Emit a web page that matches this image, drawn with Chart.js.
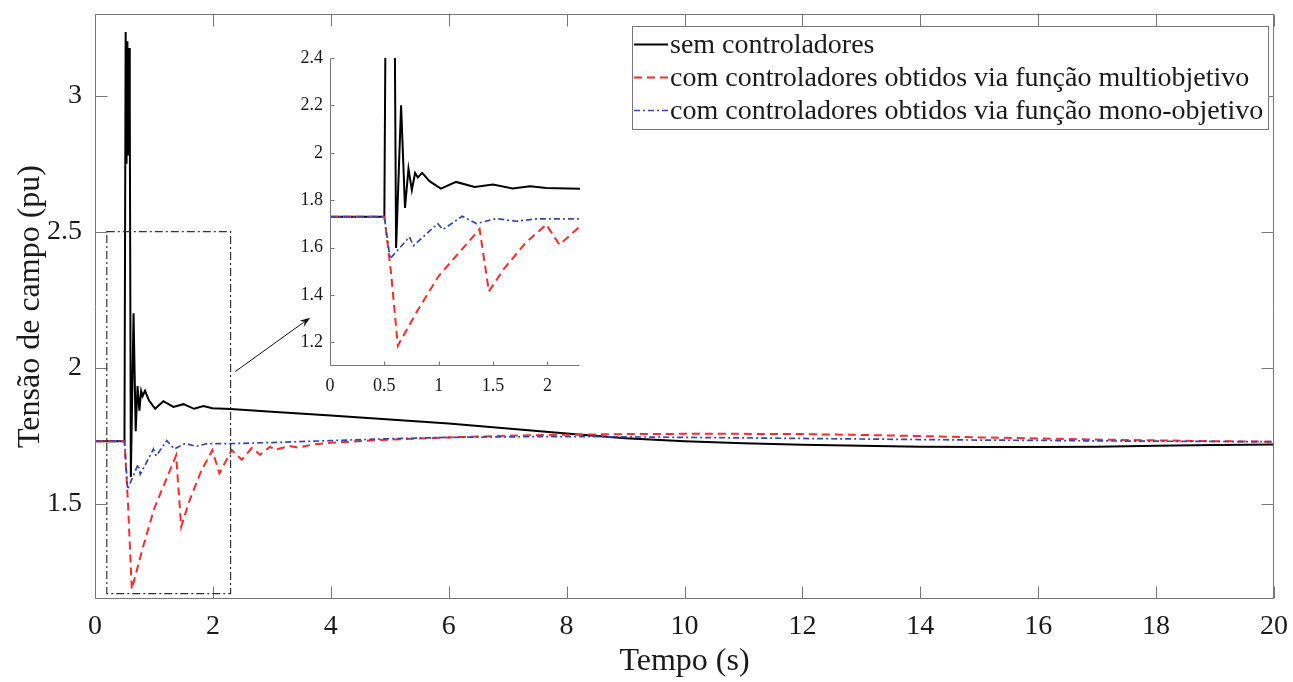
<!DOCTYPE html>
<html>
<head>
<meta charset="utf-8">
<script src="https://cdn.jsdelivr.net/npm/chart.js@4.4.1/dist/chart.umd.min.js"></script>
<style>
  html, body { margin: 0; padding: 0; background: #fff; }
  #wrap { position: relative; width: 1293px; height: 682px; }
  #main { position: absolute; left: 0; top: 0; }
  #inset { position: absolute; left: 280px; top: 40px; }
</style>
</head>
<body>
<div id="wrap">
  <canvas id="main" width="1293" height="682"></canvas>
  <canvas id="inset" width="320" height="360"></canvas>
</div>
<script>
// series (time in s, field voltage in pu)
const labels = [
    'sem controladores',
    'com controladores obtidos via função multiobjetivo',
    'com controladores obtidos via função mono-objetivo'
];

const semT = [0, 0.5, 0.52, 0.535, 0.55, 0.565, 0.58, 0.59, 0.608, 0.654, 0.69, 0.722, 0.753, 0.783, 0.808, 0.848, 0.915, 1.02, 1.16, 1.33, 1.5, 1.68, 1.84, 1.99, 2.3, 3, 4, 5, 6, 7, 8, 9, 10, 11, 12, 13, 14, 15, 16, 17, 18, 19, 20];
const semV = [1.73, 1.73, 3.234, 2.75, 3.2, 2.78, 3.175, 2.95, 1.598, 2.2, 1.767, 1.933, 1.842, 1.915, 1.896, 1.915, 1.88, 1.849, 1.877, 1.856, 1.866, 1.849, 1.859, 1.851, 1.848, 1.838, 1.824, 1.81, 1.795, 1.777, 1.758, 1.741, 1.73, 1.722, 1.717, 1.713, 1.71, 1.709, 1.709, 1.71, 1.713, 1.716, 1.718];

const multiT = [0, 0.5, 0.56, 0.624, 0.8, 1.0, 1.2, 1.376, 1.462, 1.6, 1.8, 1.99, 2.11, 2.32, 2.49, 2.66, 2.8, 2.97, 3.05, 3.3, 3.45, 3.7, 4, 5, 6, 7, 8, 9, 10, 11, 12, 13, 14, 15, 16, 17, 18, 19, 20];
const multiV = [1.73, 1.73, 1.5, 1.186, 1.33, 1.48, 1.585, 1.678, 1.415, 1.51, 1.62, 1.697, 1.612, 1.697, 1.662, 1.705, 1.68, 1.71, 1.698, 1.712, 1.706, 1.718, 1.724, 1.736, 1.744, 1.75, 1.754, 1.756, 1.757, 1.757, 1.756, 1.753, 1.749, 1.744, 1.74, 1.736, 1.733, 1.73, 1.728];

const monoT = [0, 0.5, 0.553, 0.731, 0.768, 0.992, 1.038, 1.217, 1.346, 1.53, 1.714, 1.9, 2.3, 3, 4, 5, 6, 7, 8, 9, 10, 11, 12, 13, 14, 15, 16, 17, 18, 19, 20];
const monoV = [1.73, 1.73, 1.553, 1.645, 1.608, 1.701, 1.676, 1.732, 1.701, 1.722, 1.711, 1.721, 1.721, 1.725, 1.732, 1.739, 1.744, 1.746, 1.747, 1.746, 1.744, 1.742, 1.74, 1.738, 1.736, 1.734, 1.733, 1.731, 1.73, 1.729, 1.728];

const xTicks = [0, 2, 4, 6, 8, 10, 12, 14, 16, 18, 20];
const yTicks = [1.5, 2, 2.5, 3];
const insetXTicks = [0, 0.5, 1, 1.5, 2];
const insetYTicks = [1.2, 1.4, 1.6, 1.8, 2, 2.2, 2.4];

// zoomed region and the arrow pointing to the inset, in main-axis units
const zoomX = [0.2, 2.3];
const zoomY = [1.17, 2.5];
const arrowFrom = [2.38, 1.986];
const arrowTo = [3.65, 2.184];

const family = "'Liberation Serif', 'DejaVu Serif', serif";
const textColor = '#1a1a1a';
const axisColor = '#777';

const toXY = (t, v) => t.map((x, i) => ({ x: x, y: v[i] }));
const fmt = v => String(+v.toFixed(2));

// keep the plot area exactly where the layout padding puts it
function fixSize(prop, size) {
    return s => {
        s[prop] = size;
        s.paddingTop = s.paddingBottom = s.paddingLeft = s.paddingRight = 0;
    };
}

function makeDatasets() {
    return [{
        label: labels[0],
        data: toXY(semT, semV),
        borderColor: '#000',
        borderWidth: 2,
        order: 3
    }, {
        label: labels[1],
        data: toXY(multiT, multiV),
        borderColor: '#ff2a2a',
        borderWidth: 2,
        borderDash: [8, 5],
        order: 2
    }, {
        label: labels[2],
        data: toXY(monoT, monoV),
        borderColor: '#3446b4',
        borderWidth: 1.7,
        borderDash: [6, 3, 2, 3],
        order: 1
    }];
}

// matlab-like axes: inward ticks, optional full box
const frame = {
    id: 'frame',
    afterDatasetsDraw(chart, args, o) {
        const { ctx, chartArea: a, scales } = chart;
        const L = Math.round(a.left) + 0.5, R = Math.round(a.right) - 0.5;
        const T = Math.round(a.top) + 0.5, B = Math.round(a.bottom) - 0.5;
        ctx.save();
        ctx.strokeStyle = o.color;
        ctx.lineWidth = 1;
        ctx.setLineDash([]);
        ctx.beginPath();
        if (o.full) {
            ctx.rect(L, T, R - L, B - T);
        } else {
            ctx.moveTo(L, T); ctx.lineTo(L, B); ctx.lineTo(R, B);
        }
        scales.x.ticks.forEach(t => {
            const p = Math.round(scales.x.getPixelForValue(t.value)) + 0.5;
            ctx.moveTo(p, B); ctx.lineTo(p, B - o.len);
            if (o.full) { ctx.moveTo(p, T); ctx.lineTo(p, T + o.len); }
        });
        scales.y.ticks.forEach(t => {
            const p = Math.round(scales.y.getPixelForValue(t.value)) + 0.5;
            ctx.moveTo(L, p); ctx.lineTo(L + o.len, p);
            if (o.full) { ctx.moveTo(R, p); ctx.lineTo(R - o.len, p); }
        });
        ctx.stroke();
        ctx.restore();
    }
};

const zoomMark = {
    id: 'zoomMark',
    afterDatasetsDraw(chart) {
        const { ctx, scales: { x, y } } = chart;
        ctx.save();
        ctx.strokeStyle = '#333';
        ctx.lineWidth = 1.2;
        ctx.setLineDash([8, 3, 2, 3]);
        const x0 = x.getPixelForValue(zoomX[0]), x1 = x.getPixelForValue(zoomX[1]);
        const y0 = y.getPixelForValue(zoomY[1]), y1 = y.getPixelForValue(zoomY[0]);
        ctx.strokeRect(x0, y0, x1 - x0, y1 - y0);
        ctx.setLineDash([]);
        // arrow
        const ax = x.getPixelForValue(arrowFrom[0]), ay = y.getPixelForValue(arrowFrom[1]);
        const bx = x.getPixelForValue(arrowTo[0]), by = y.getPixelForValue(arrowTo[1]);
        const ang = Math.atan2(by - ay, bx - ax);
        ctx.strokeStyle = '#111';
        ctx.lineWidth = 1;
        ctx.beginPath();
        ctx.moveTo(ax, ay);
        ctx.lineTo(bx - 8 * Math.cos(ang), by - 8 * Math.sin(ang));
        ctx.stroke();
        ctx.fillStyle = '#111';
        ctx.beginPath();
        ctx.moveTo(bx, by);
        ctx.lineTo(bx - 11 * Math.cos(ang - 0.35), by - 11 * Math.sin(ang - 0.35));
        ctx.lineTo(bx - 7 * Math.cos(ang), by - 7 * Math.sin(ang));
        ctx.lineTo(bx - 11 * Math.cos(ang + 0.35), by - 11 * Math.sin(ang + 0.35));
        ctx.closePath();
        ctx.fill();
        ctx.restore();
    }
};

const legendBox = {
    id: 'legendBox',
    afterDraw(chart, args, o) {
        const { ctx, chartArea: a } = chart;
        const items = chart.data.datasets;
        ctx.save();
        ctx.font = o.size + 'px ' + family;
        const textW = Math.max(...items.map(d => ctx.measureText(d.label).width));
        const w = 2 + o.sample + o.gap + textW + 5;
        const h = items.length * o.row + 4;
        const left = Math.round(a.right - o.right - w), top = Math.round(a.top + o.top);
        ctx.fillStyle = '#fff';
        ctx.fillRect(left, top, w, h);
        ctx.strokeStyle = axisColor;
        ctx.lineWidth = 1;
        ctx.strokeRect(left + 0.5, top + 0.5, Math.round(w), Math.round(h));
        items.forEach((d, i) => {
            const cy = top + 2 + o.row * (i + 0.5);
            ctx.strokeStyle = d.borderColor;
            ctx.lineWidth = d.borderWidth;
            ctx.setLineDash(d.borderDash || []);
            ctx.beginPath();
            ctx.moveTo(left + 2, cy);
            ctx.lineTo(left + 2 + o.sample, cy);
            ctx.stroke();
            ctx.setLineDash([]);
            ctx.fillStyle = textColor;
            ctx.textBaseline = 'middle';
            ctx.fillText(d.label, left + 2 + o.sample + o.gap, cy + 1);
        });
        ctx.restore();
    }
};

new Chart(document.getElementById('main'), {
    type: 'line',
    data: { datasets: makeDatasets() },
    plugins: [frame, zoomMark, legendBox],
    options: {
        responsive: false,
        animation: false,
        devicePixelRatio: 1,
        elements: { point: { radius: 0 }, line: { tension: 0, fill: false } },
        layout: { padding: { top: 14, right: 19, left: 0, bottom: 0 } },
        plugins: {
            legend: { display: false },
            tooltip: { enabled: false },
            frame: { color: axisColor, len: 12, full: true },
            legendBox: { size: 28, row: 33, sample: 34, gap: 2, right: 6, top: 12 }
        },
        scales: {
            x: {
                type: 'linear',
                min: 0,
                max: 20,
                afterBuildTicks: s => { s.ticks = xTicks.map(v => ({ value: v })); },
                afterFit: fixSize('height', 83),
                grid: { display: false, drawTicks: false },
                border: { display: false },
                ticks: { font: { family: family, size: 28 }, color: textColor, padding: 11, maxRotation: 0, autoSkip: false, callback: fmt },
                title: { display: true, text: 'Tempo (s)', font: { family: family, size: 32 }, color: textColor, padding: { top: 0, bottom: 1 } }
            },
            y: {
                type: 'linear',
                min: 1.15,
                max: 3.3,
                afterBuildTicks: s => { s.ticks = yTicks.map(v => ({ value: v })); },
                afterFit: fixSize('width', 95),
                grid: { display: false, drawTicks: false },
                border: { display: false },
                ticks: { font: { family: family, size: 28 }, color: textColor, padding: 13, autoSkip: false, callback: fmt },
                title: { display: true, text: 'Tensão de campo (pu)', font: { family: family, size: 32 }, color: textColor, padding: { top: 11, bottom: 0 } }
            }
        }
    }
});

// inset: zoom on the first 2.3 s
new Chart(document.getElementById('inset'), {
    type: 'line',
    data: { datasets: makeDatasets() },
    plugins: [frame],
    options: {
        responsive: false,
        animation: false,
        devicePixelRatio: 1,
        elements: { point: { radius: 0 }, line: { tension: 0, fill: false } },
        layout: { padding: { top: 18, right: 20, left: 0, bottom: 0 } },
        plugins: {
            legend: { display: false },
            tooltip: { enabled: false },
            frame: { color: axisColor, len: 4, full: false }
        },
        scales: {
            x: {
                type: 'linear',
                min: 0,
                max: 2.3,
                afterBuildTicks: s => { s.ticks = insetXTicks.map(v => ({ value: v })); },
                afterFit: fixSize('height', 34),
                grid: { display: false, drawTicks: false },
                border: { display: false },
                ticks: { font: { family: family, size: 18 }, color: textColor, padding: 9, maxRotation: 0, autoSkip: false, callback: fmt }
            },
            y: {
                type: 'linear',
                min: 1.1,
                max: 2.4,
                afterBuildTicks: s => { s.ticks = insetYTicks.map(v => ({ value: v })); },
                afterFit: fixSize('width', 50),
                grid: { display: false, drawTicks: false },
                border: { display: false },
                ticks: { font: { family: family, size: 18 }, color: textColor, padding: 7, autoSkip: false, callback: fmt }
            }
        }
    }
});
</script>
</body>
</html>
